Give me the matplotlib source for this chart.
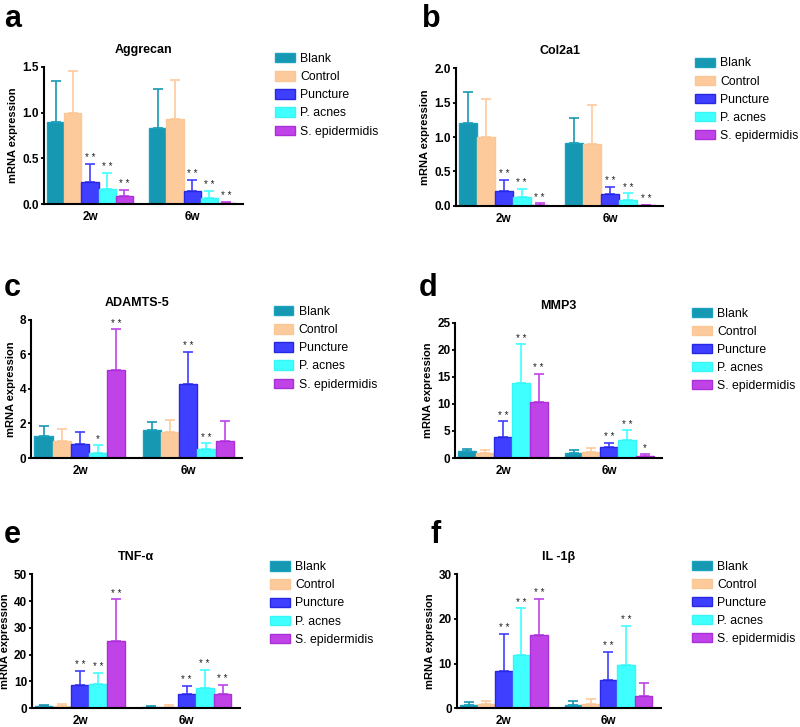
import matplotlib
matplotlib.use("Agg")
import matplotlib.pyplot as plt
import numpy as np

plt.rcParams['font.family'] = ['Liberation Sans', 'DejaVu Sans']

groups = ['2w', '6w']
series = ['Blank', 'Control', 'Puncture', 'P. acnes', 'S. epidermidis']
face_colors = ['#1697b2', '#fdca9c', '#3f3fff', '#40ffff', '#c043e8']
edge_colors = ['#1aa3bf', '#fcc796', '#2828e0', '#3af5f5', '#a92fd8']

# mean values [2w, 6w] per series
aggrecan_mean = [[0.90, 0.83], [1.00, 0.93], [0.24, 0.14], [0.165, 0.07], [0.09, 0.015]]
aggrecan_sd = [[0.45, 0.43], [0.45, 0.43], [0.20, 0.13], [0.18, 0.075], [0.07, 0.01]]
aggrecan_stars = [['', ''], ['', ''], ['**', '**'], ['**', '**'], ['**', '**']]

col2a1_mean = [[1.20, 0.91], [1.00, 0.90], [0.22, 0.17], [0.12, 0.09], [0.015, 0.01]]
col2a1_sd = [[0.46, 0.37], [0.56, 0.57], [0.16, 0.11], [0.13, 0.09], [0.02, 0.005]]
col2a1_stars = [['', ''], ['', ''], ['**', '**'], ['**', '**'], ['**', '**']]

adamts5_mean = [[1.3, 1.6], [1.0, 1.5], [0.8, 4.3], [0.3, 0.5], [5.1, 1.0]]
adamts5_sd = [[0.57, 0.5], [0.67, 0.7], [0.73, 1.85], [0.48, 0.35], [2.35, 1.12]]
adamts5_stars = [['', ''], ['', ''], ['', '**'], ['*', '**'], ['**', '']]

mmp3_mean = [[1.3, 0.9], [0.9, 1.1], [3.9, 2.1], [13.9, 3.3], [10.3, 0.4]]
mmp3_sd = [[0.4, 0.55], [0.5, 0.7], [2.9, 0.7], [7.1, 1.8], [5.2, 0.3]]
mmp3_stars = [['', ''], ['', ''], ['**', '**'], ['**', '**'], ['**', '*']]

tnf_mean = [[0.6, 0.5], [0.9, 0.5], [8.5, 5.2], [9.1, 7.4], [25.0, 5.4]]
tnf_sd = [[0.6, 0.4], [0.7, 0.8], [5.5, 3.2], [4.0, 7.0], [15.7, 3.2]]
tnf_stars = [['', ''], ['', ''], ['**', '**'], ['**', '**'], ['**', '**']]

il1b_mean = [[0.8, 0.8], [0.9, 1.0], [8.4, 6.4], [12.0, 9.6], [16.3, 2.8]]
il1b_sd = [[0.6, 0.7], [0.7, 1.0], [8.2, 6.2], [10.4, 8.8], [8.2, 2.8]]
il1b_stars = [['', ''], ['', ''], ['**', '**'], ['**', '**'], ['**', '']]

panels = [
    ('a', 'Aggrecan', aggrecan_mean, aggrecan_sd, aggrecan_stars, [0.0, 0.5, 1.0, 1.5], '{:.1f}'),
    ('b', 'Col2a1', col2a1_mean, col2a1_sd, col2a1_stars, [0.0, 0.5, 1.0, 1.5, 2.0], '{:.1f}'),
    ('c', 'ADAMTS-5', adamts5_mean, adamts5_sd, adamts5_stars, [0, 2, 4, 6, 8], '{:.0f}'),
    ('d', 'MMP3', mmp3_mean, mmp3_sd, mmp3_stars, [0, 5, 10, 15, 20, 25], '{:.0f}'),
    ('e', 'TNF-α', tnf_mean, tnf_sd, tnf_stars, [0, 10, 20, 30, 40, 50], '{:.0f}'),
    ('f', 'IL -1β', il1b_mean, il1b_sd, il1b_stars, [0, 10, 20, 30], '{:.0f}'),
]

# axes rects in figure fraction, legend anchor, panel label position
axes_rects = [
    [0.055, 0.719, 0.249, 0.189],
    [0.570, 0.717, 0.259, 0.189],
    [0.039, 0.370, 0.264, 0.190],
    [0.569, 0.370, 0.259, 0.186],
    [0.040, 0.026, 0.260, 0.184],
    [0.571, 0.026, 0.255, 0.184],
]
legend_pos = [(0.344, 0.927), (0.869, 0.921), (0.342, 0.579), (0.865, 0.577), (0.338, 0.228), (0.865, 0.229)]
label_pos = [(0.005, 0.995), (0.528, 0.995), (0.005, 0.625), (0.523, 0.625), (0.005, 0.285), (0.538, 0.285)]

fig = plt.figure(figsize=(8, 7.27), dpi=100)

bw = 0.168
xc = np.arange(len(groups))

for i, (lab, title, mean, sd, stars, ticks, fmt) in enumerate(panels):
    ax = fig.add_axes(axes_rects[i])
    handles = []
    for s in range(len(series)):
        xs = xc + (s - 2) * bw
        b = ax.bar(xs, mean[s], bw, color=face_colors[s], edgecolor=edge_colors[s],
                   linewidth=1.0, label=series[s], zorder=2)
        handles.append(b)
        ax.errorbar(xs, mean[s], yerr=[np.zeros(2), sd[s]], fmt='none',
                    ecolor=face_colors[s], elinewidth=1.2, capsize=3.6, capthick=1.2, zorder=1)
        for g in range(len(groups)):
            if stars[s][g]:
                txt = ' '.join(stars[s][g])
                ax.text(xs[g], mean[s][g] + sd[s][g] + ticks[-1] * 0.005, txt,
                        ha='center', va='bottom', fontsize=7, color='#222222')
    ax.set_xlim(-0.45, 1.5)
    ax.set_ylim(ticks[0], ticks[-1])
    ax.set_yticks(ticks)
    ax.set_yticklabels([fmt.format(t) for t in ticks], fontsize=8.5, fontweight='bold')
    ax.set_xticks(xc)
    ax.set_xticklabels(groups, fontsize=8.5, fontweight='bold')
    ax.tick_params(axis='x', length=0, pad=5)
    ax.tick_params(axis='y', width=1.3, length=2.5, pad=1)
    for sp in ['top', 'right']:
        ax.spines[sp].set_visible(False)
    for sp in ['left', 'bottom']:
        ax.spines[sp].set_linewidth(1.5)
    ax.set_ylabel('mRNA expression', fontsize=8, fontweight='bold', labelpad=3)
    ax.set_title(title, fontsize=9, fontweight='bold', pad=10)
    ax.legend(handles=handles, loc='upper left', bbox_to_anchor=legend_pos[i],
              bbox_transform=fig.transFigure, frameon=False, fontsize=8.8,
              handlelength=1.6, handleheight=0.8, handletextpad=0.45,
              labelspacing=0.5, borderpad=0, borderaxespad=0)
    fig.text(label_pos[i][0], label_pos[i][1], lab, fontsize=22, fontweight='bold',
             ha='left', va='top')

fig.savefig('out.png', dpi=100)
